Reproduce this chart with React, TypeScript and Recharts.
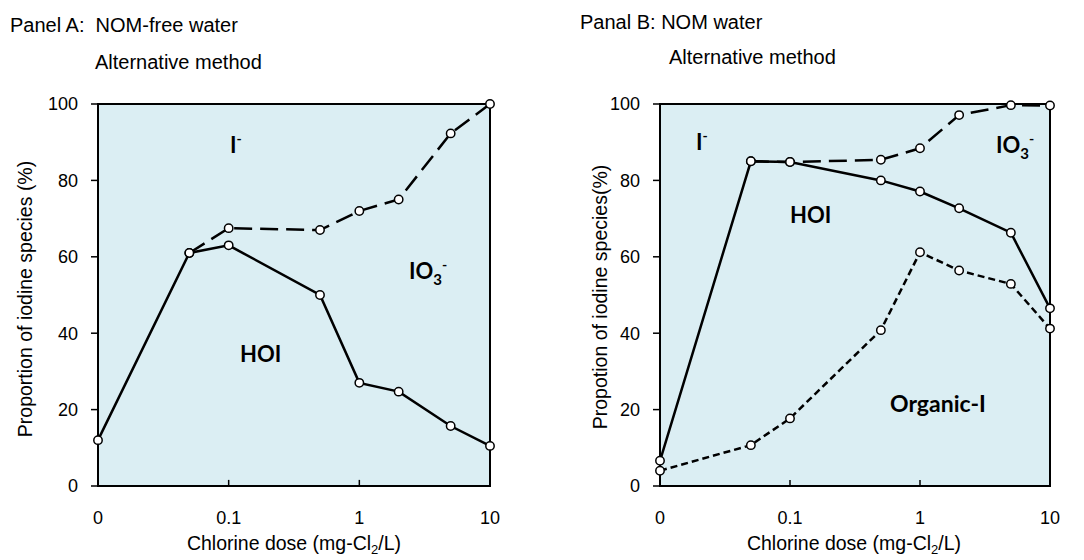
import React from "react";
import {
  LineChart,
  Line,
  XAxis,
  YAxis,
  ReferenceArea,
  ReferenceLine,
} from "recharts";

// chlorine doses (mg-Cl2/L); 0 is drawn one decade left of 0.1
const doses = [0, 0.05, 0.1, 0.5, 1, 2, 5, 10];

// Panel A: NOM-free water
const aHoiBoundary = [12, 61, 63, 50, 27, 24.7, 15.7, 10.5];
const aIodideBoundary = [null, 61, 67.5, 67, 72, 75, 92.3, 100];

// Panel B: NOM water
const bHoiBoundary = [6.6, 85, 84.8, 80, 77.1, 72.7, 66.3, 46.5];
const bIodideBoundary = [null, 85, 84.8, 85.4, 88.4, 97.1, 99.7, 99.6];
const bOrganicBoundary = [4, 10.7, 17.7, 40.8, 61.2, 56.4, 52.9, 41.2];

const xTicks = [-2, -1, 0, 1];
const xTickLabels = ["0", "0.1", "1", "10"];
const yTicks = [0, 20, 40, 60, 80, 100];

const toX = (d: number) => (d === 0 ? -2 : Math.log10(d));

const panelA = doses.map((d, i) => ({
  x: toX(d),
  hoi: aHoiBoundary[i],
  iodide: aIodideBoundary[i],
}));

const panelB = doses.map((d, i) => ({
  x: toX(d),
  hoi: bHoiBoundary[i],
  iodide: bIodideBoundary[i],
  organic: bOrganicBoundary[i],
}));

const FONT = "'Liberation Sans', Arial, sans-serif";
const BOLD = "Lato, 'Open Sans', sans-serif";
const BG = "#dbeef3";

const openDot = (props: any) => {
  const { cx, cy, key } = props;
  if (cy == null || cx == null) return <g key={key} />;
  return (
    <circle
      key={key}
      cx={cx}
      cy={cy}
      r={4.2}
      fill="#fff"
      stroke="#000"
      strokeWidth={1.5}
    />
  );
};

function Panel({
  data,
  left,
  width,
  marginLeft,
  marginRight,
  children,
}: {
  data: any[];
  left: number;
  width: number;
  marginLeft: number;
  marginRight: number;
  children: React.ReactNode;
}) {
  return (
    <div style={{ position: "absolute", left, top: 0 }}>
      <LineChart
        width={width}
        height={560}
        data={data}
        margin={{ top: 104, right: marginRight, bottom: 34, left: marginLeft }}
      >
        <ReferenceArea
          x1={-2}
          x2={1}
          y1={0}
          y2={100}
          fill={BG}
          fillOpacity={1}
          stroke="#000"
          strokeWidth={2}
        />
        {[-1, 0].map((t) => (
          <ReferenceLine
            key={t}
            segment={[
              { x: t, y: 0 },
              { x: t, y: 1.6 },
            ]}
            stroke="#000"
            strokeWidth={1.5}
          />
        ))}
        <XAxis
          dataKey="x"
          type="number"
          domain={[-2, 1]}
          ticks={xTicks}
          tickFormatter={(v: number) => xTickLabels[xTicks.indexOf(v)]}
          axisLine={false}
          tickLine={false}
          tickSize={6}
          tickMargin={19}
          height={40}
          tick={{ fontSize: 18, fill: "#000", fontFamily: FONT }}
        />
        <YAxis
          type="number"
          domain={[0, 100]}
          ticks={yTicks}
          width={98}
          axisLine={false}
          tickLine={{ stroke: "#000", strokeWidth: 1.5 }}
          tickSize={7}
          tickMargin={13}
          tick={{ fontSize: 18, fill: "#000", fontFamily: FONT }}
        />
        {children}
      </LineChart>
    </div>
  );
}

export default function App() {
  return (
    <div
      style={{
        position: "absolute",
        left: 0,
        top: 0,
        width: 1084,
        height: 560,
        background: "#fff",
      }}
    >
      <Panel data={panelA} left={0} width={540} marginLeft={0} marginRight={50}>
        <Line
          dataKey="iodide"
          stroke="#000"
          strokeWidth={2.5}
          strokeDasharray="18 8"
          dot={openDot}
          isAnimationActive={false}
        />
        <Line
          dataKey="hoi"
          stroke="#000"
          strokeWidth={2.5}
          dot={openDot}
          isAnimationActive={false}
        />
      </Panel>
      <Panel data={panelB} left={540} width={544} marginLeft={22} marginRight={34}>
        <Line
          dataKey="organic"
          stroke="#000"
          strokeWidth={2.5}
          strokeDasharray="7 4"
          dot={openDot}
          isAnimationActive={false}
        />
        <Line
          dataKey="iodide"
          stroke="#000"
          strokeWidth={2.5}
          strokeDasharray="18 8"
          dot={openDot}
          isAnimationActive={false}
        />
        <Line
          dataKey="hoi"
          stroke="#000"
          strokeWidth={2.5}
          dot={openDot}
          isAnimationActive={false}
        />
      </Panel>

      <svg
        width={1084}
        height={560}
        style={{ position: "absolute", left: 0, top: 0, pointerEvents: "none" }}
      >
        <g fontFamily={FONT} fontSize={20} fill="#000">
          <text x={10} y={32}>{"Panel A:\u00a0 NOM-free water"}</text>
          <text x={95} y={69}>Alternative method</text>
          <text x={580} y={29}>Panal B: NOM water</text>
          <text x={669} y={64}>Alternative method</text>

          <text x={294} y={550} textAnchor="middle" fontSize={19.5}>
            Chlorine dose (mg-Cl
            <tspan fontSize={13} dy={4}>2</tspan>
            <tspan dy={-4}>/L)</tspan>
          </text>
          <text x={854} y={550} textAnchor="middle" fontSize={19.5}>
            Chlorine dose (mg-Cl
            <tspan fontSize={13} dy={4}>2</tspan>
            <tspan dy={-4}>/L)</tspan>
          </text>

          <text
            x={0}
            y={0}
            fontSize={19.5}
            textAnchor="middle"
            transform="translate(32 299) rotate(-90)"
          >
            Proportion of iodine species (%)
          </text>
          <text
            x={0}
            y={0}
            fontSize={19.5}
            textAnchor="middle"
            transform="translate(607 297) rotate(-90)"
          >
            Propotion of iodine species(%)
          </text>
        </g>

        <g fontFamily={BOLD} fontWeight="bold" fontSize={22} fill="#000">
          <text x={230} y={153}>
            I<tspan fontSize={14} dy={-9}>-</tspan>
          </text>
          <text x={409} y={279}>
            IO<tspan fontSize={15} dy={6}>3</tspan>
            <tspan fontSize={14} dy={-15}>-</tspan>
          </text>
          <text x={240} y={362}>HOI</text>

          <text x={696} y={150}>
            I<tspan fontSize={14} dy={-9}>-</tspan>
          </text>
          <text x={996} y={153}>
            IO<tspan fontSize={15} dy={6}>3</tspan>
            <tspan fontSize={14} dy={-15}>-</tspan>
          </text>
          <text x={790} y={223}>HOI</text>
          <text x={890} y={412} fontSize={23}>Organic-I</text>
        </g>
      </svg>
    </div>
  );
}
